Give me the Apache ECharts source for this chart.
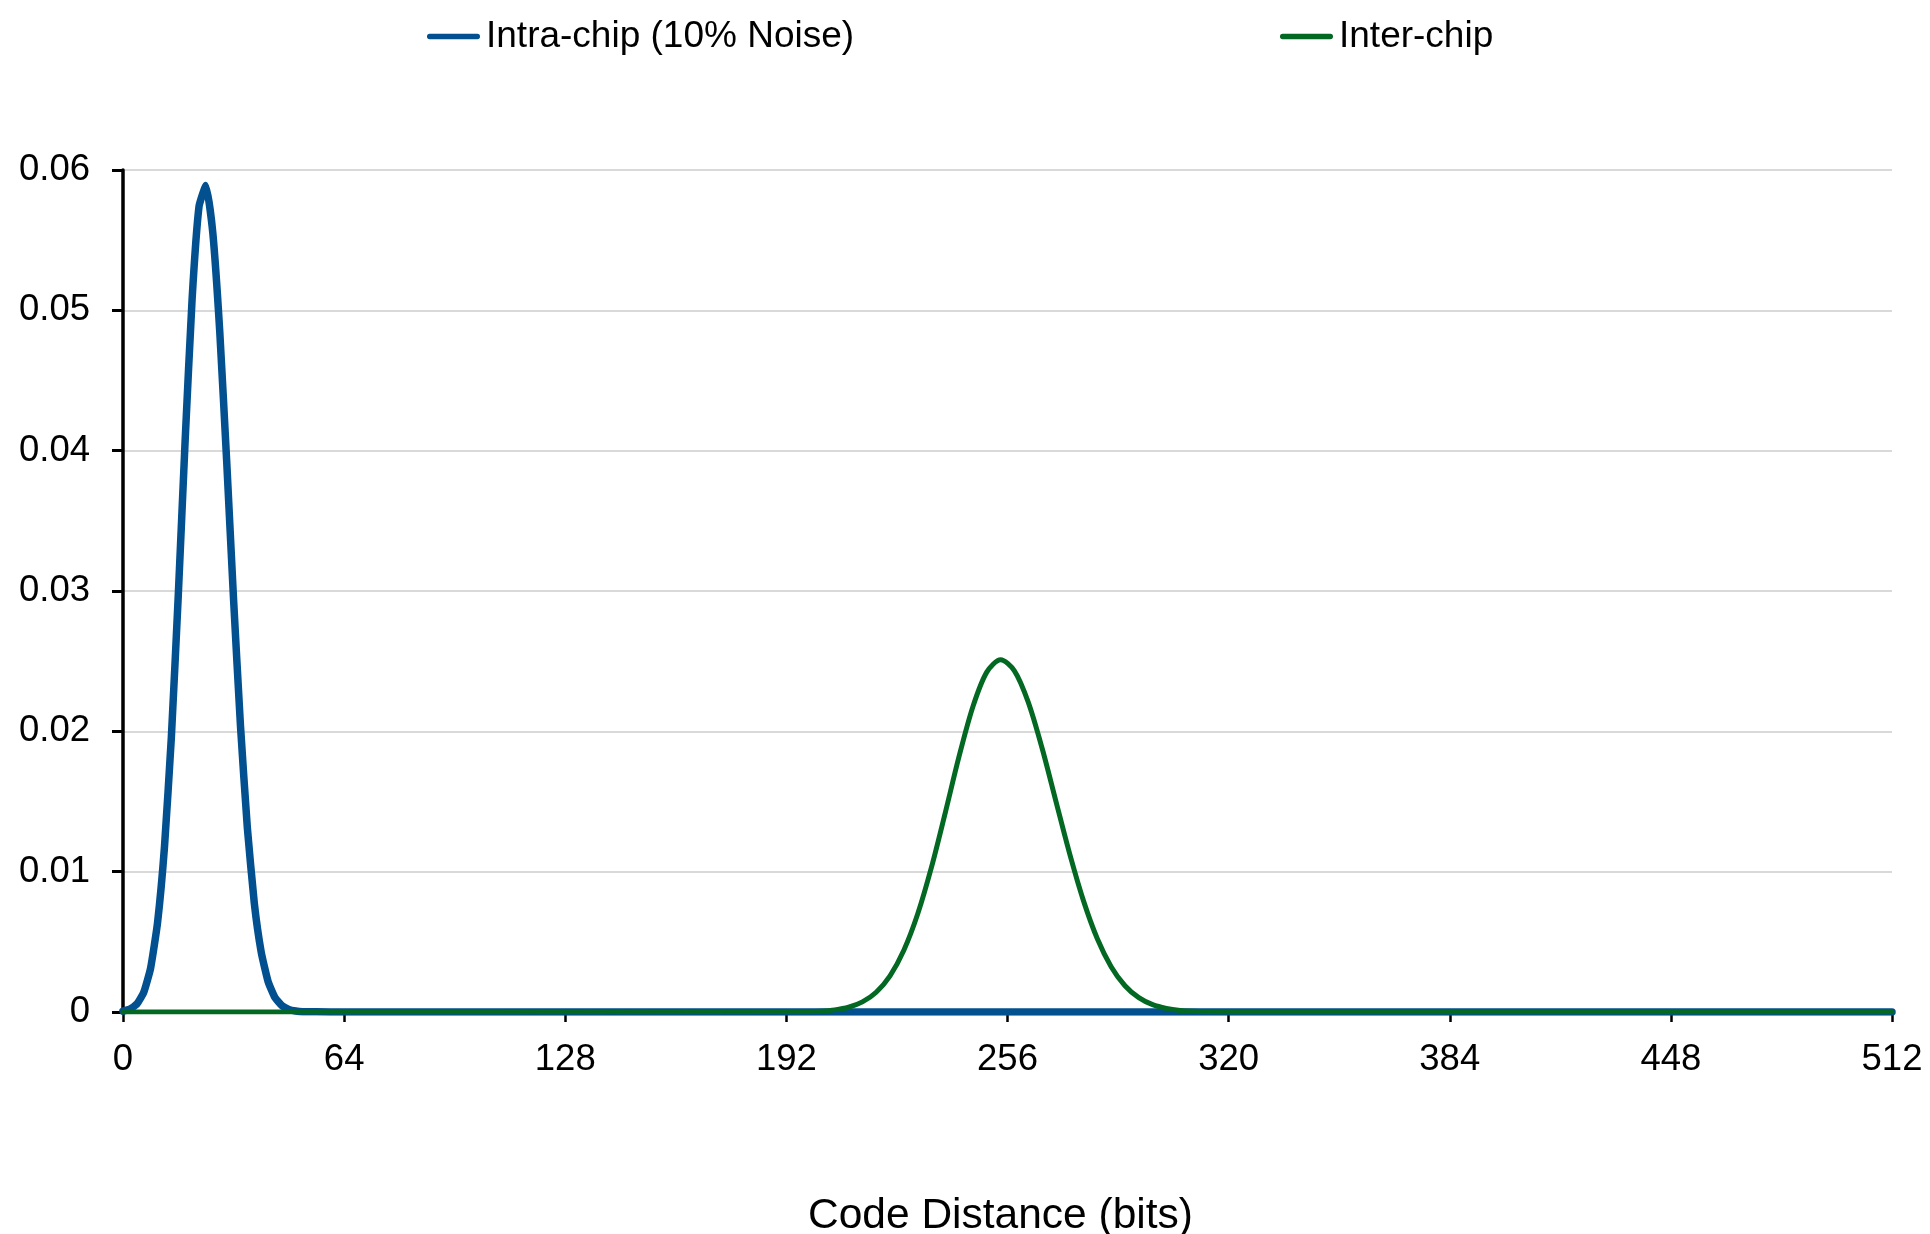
<!DOCTYPE html>
<html>
<head>
<meta charset="utf-8">
<title>Code Distance</title>
<script src="https://cdn.jsdelivr.net/npm/echarts@6/dist/echarts.min.js"></script>
<style>
  html, body { margin: 0; padding: 0; background: #ffffff; }
  #chart { width: 1930px; height: 1234px; }
</style>
</head>
<body>
<div id="chart"></div>
<script>
// Distribution of code distances between readouts
const seriesNames = ['Intra-chip (10% Noise)', 'Inter-chip'];

// Intra-chip: repeated readouts of the same chip under 10% noise
const intraBits = [0, 2, 4, 6, 8, 10, 12, 14, 16, 18, 20, 22, 24, 26, 28, 30,
  32, 34, 36, 38, 40, 42, 44, 46, 48, 50, 52, 56, 64, 512];
const intraFreq = [0.00007, 0.00021, 0.00057, 0.0014, 0.00314, 0.00637, 0.01175,
  0.0196, 0.0297, 0.0408, 0.0508, 0.0574, 0.0589, 0.0555, 0.0485, 0.0393,
  0.0294, 0.0204, 0.0131, 0.00776, 0.00427, 0.00217, 0.00102, 0.00045,
  0.00018, 0.00007, 0.00002, 0.00001, 0, 0];

// Inter-chip: readouts compared across different chips
const interBits = [0, 194, 198, 202, 206, 210, 214, 218, 222, 226, 230, 234, 238,
  242, 246, 250, 254, 258, 262, 266, 270, 274, 278, 282, 286, 290, 294, 298,
  302, 306, 310, 314, 318, 512];
const interFreq = [0, 0.00001, 0.00002, 0.00006, 0.00015, 0.00034, 0.00072, 0.00141,
  0.00258, 0.0044, 0.00698, 0.01032, 0.01421, 0.01823, 0.02177, 0.02422,
  0.0251, 0.02431, 0.02208, 0.01881, 0.01503, 0.01127, 0.00792, 0.00522,
  0.00323, 0.00187, 0.00102, 0.00052, 0.00025, 0.00011, 0.00005, 0.00002, 0, 0];

const xTicks = { min: 0, max: 512, interval: 64 };
const yTicks = { min: 0, max: 0.06, interval: 0.01 };

const pairs = (xs, ys) => xs.map((x, i) => [x, ys[i]]);

const FONT = '"Liberation Sans", Arial, sans-serif';
const BLUE = '#02508f';
const GREEN = '#036822';
const legendIcon = 'path://M5,0 H95 A5,5 0 0 1 95,10 H5 A5,5 0 0 1 5,0 Z';

const chart = echarts.init(document.getElementById('chart'), null, { renderer: 'canvas' });

chart.setOption({
  animation: false,
  backgroundColor: '#ffffff',
  textStyle: { fontFamily: FONT, color: '#000000' },
  legend: [
    {
      data: [seriesNames[0]],
      left: 427, top: 18, padding: 0,
      icon: legendIcon, itemWidth: 53, itemHeight: 8,
      textStyle: { fontFamily: FONT, fontSize: 37, color: '#000000', padding: [0, 0, 0, 1] }
    },
    {
      data: [seriesNames[1]],
      left: 1280, top: 18, padding: 0,
      icon: legendIcon, itemWidth: 53, itemHeight: 6,
      textStyle: { fontFamily: FONT, fontSize: 37, color: '#000000', padding: [0, 0, 0, 1] }
    }
  ],
  grid: {
    left: 123, right: 38, top: 170, bottom: 222,
    containLabel: false,
    outerBoundsMode: 'none'
  },
  xAxis: {
    type: 'value',
    min: xTicks.min, max: xTicks.max, interval: xTicks.interval,
    name: 'Code Distance (bits)',
    nameLocation: 'middle',
    nameGap: 183,
    nameTextStyle: { fontFamily: FONT, fontSize: 42.5, color: '#000000', padding: [0, 14, 0, 0] },
    axisLine: { show: true, onZero: false, lineStyle: { color: '#000000', width: 3 } },
    axisTick: { show: true, length: 10, lineStyle: { color: '#000000', width: 2.5 } },
    axisLabel: { fontFamily: FONT, fontSize: 36.5, color: '#000000', margin: 29 },
    splitLine: { show: false }
  },
  yAxis: {
    type: 'value',
    min: yTicks.min, max: yTicks.max, interval: yTicks.interval,
    axisLine: { show: true, lineStyle: { color: '#000000', width: 3.5 } },
    axisTick: { show: true, length: 11, lineStyle: { color: '#000000', width: 3 } },
    axisLabel: { fontFamily: FONT, fontSize: 36.5, color: '#000000', margin: 33 },
    splitLine: { show: true, lineStyle: { color: '#d9d9d9', width: 2 } }
  },
  series: [
    {
      name: seriesNames[0],
      type: 'line',
      data: pairs(intraBits, intraFreq),
      showSymbol: false,
      symbol: 'none',
      smooth: 0.15,
      color: BLUE,
      lineStyle: { color: BLUE, width: 7.5, cap: 'round', join: 'round' },
      z: 2
    },
    {
      name: seriesNames[1],
      type: 'line',
      data: pairs(interBits, interFreq),
      showSymbol: false,
      symbol: 'none',
      smooth: 0.3,
      color: GREEN,
      lineStyle: { color: GREEN, width: 5, cap: 'round', join: 'round' },
      z: 3
    }
  ]
});
</script>
</body>
</html>
